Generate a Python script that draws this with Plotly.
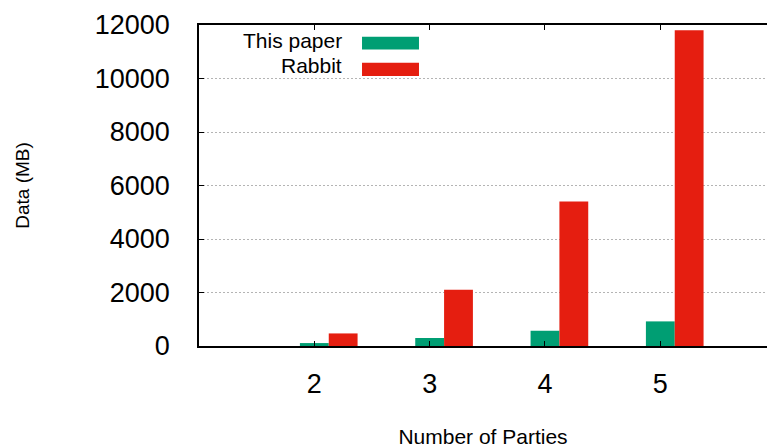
import plotly.graph_objects as go

# Data transferred (MB) versus number of parties
parties = [2, 3, 4, 5]
this_paper_mb = [110, 300, 570, 920]
rabbit_mb = [470, 2100, 5400, 11800]
series_names = ["This paper", "Rabbit"]
series_colors = ["#009e73", "#e51e10"]
y_ticks = [0, 2000, 4000, 6000, 8000, 10000, 12000]
y_tick_labels = [str(v) for v in y_ticks]
x_tick_labels = [str(p) for p in parties]

FONT = "Liberation Sans, Arial, sans-serif"
bar_w = 0.25

fig = go.Figure()
fig.add_trace(go.Bar(x=parties, y=this_paper_mb, name=series_names[0],
                     marker=dict(color=series_colors[0], line=dict(width=0)),
                     width=bar_w, offset=-bar_w / 2))
fig.add_trace(go.Bar(x=parties, y=rabbit_mb, name=series_names[1],
                     marker=dict(color=series_colors[1], line=dict(width=0)),
                     width=bar_w, offset=bar_w / 2))

# Key in the top-left corner: right-aligned label followed by a colour swatch
key_rows = [(0.953, 0.9635, 0.924), (0.873, 0.8825, 0.8409)]
for name, color, (ty, y0, y1) in zip(series_names, series_colors, key_rows):
    fig.add_annotation(xref="paper", yref="paper", x=0.2553, y=ty,
                       text=name, showarrow=False, xanchor="right", yanchor="middle",
                       font=dict(family=FONT, size=21, color="black"))
    fig.add_shape(type="rect", xref="paper", yref="paper",
                  x0=0.287, x1=0.3873, y0=y1, y1=y0,
                  fillcolor=color, line=dict(width=0))

fig.update_layout(
    width=767, height=448,
    margin=dict(l=199, r=0, t=25, b=102),
    paper_bgcolor="white", plot_bgcolor="white",
    barmode="overlay", showlegend=False,
    font=dict(family=FONT, color="black"),
)
fig.update_xaxes(
    range=[1, 5.925], tickvals=parties, ticktext=x_tick_labels,
    ticks="inside", ticklen=5, tickcolor="black", tickwidth=1,
    showline=True, linecolor="black", linewidth=1.5, mirror="ticks",
    showgrid=False, zeroline=False,
    tickfont=dict(family=FONT, size=27), ticklabelstandoff=13,
    title=dict(text="Number of Parties", font=dict(family=FONT, size=21), standoff=31),
)
fig.update_yaxes(
    range=[0, 12000], tickvals=y_ticks, ticktext=y_tick_labels,
    ticks="inside", ticklen=5, tickcolor="black", tickwidth=1,
    showline=True, linecolor="black", linewidth=1.5,
    showgrid=True, gridcolor="#b4b4b4", gridwidth=1, griddash="2px,2px",
    zeroline=False,
    tickfont=dict(family=FONT, size=27), ticklabelstandoff=22,
    title=dict(text="Data (MB)", font=dict(family=FONT, size=19), standoff=60),
)

fig.write_html("out.html")
